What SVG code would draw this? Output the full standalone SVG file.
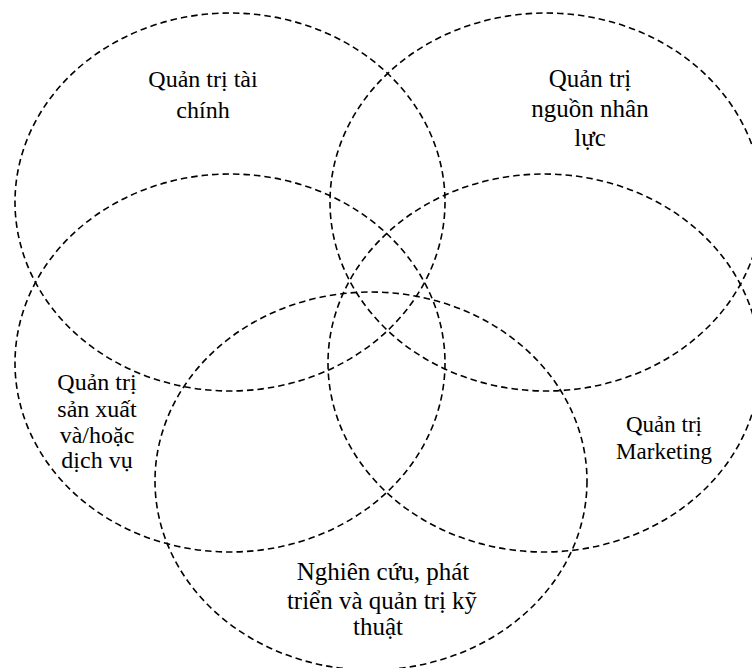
<svg xmlns="http://www.w3.org/2000/svg" width="752" height="668" viewBox="0 0 752 668">
<style>
.c{fill:none;stroke:#000;stroke-width:1.6;stroke-dasharray:6.5 4}
.t{font-family:"Liberation Serif","Times New Roman",serif;font-size:24px;fill:#000;text-anchor:middle}
.m{font-size:23px}
.l{font-size:25px}
</style>
<rect width="752" height="668" fill="#fff"/>
<g id="finance">
<ellipse class="c" cx="230" cy="202" rx="215" ry="189"/>
<text class="t" x="203" y="87">Quản trị tài</text>
<text class="t" x="203" y="118">chính</text>
</g>
<g id="hr">
<ellipse class="c" cx="546" cy="202" rx="216" ry="189"/>
<text class="t l" x="590" y="87">Quản trị</text>
<text class="t l" x="590" y="117">nguồn nhân</text>
<text class="t l" x="590" y="146">lực</text>
</g>
<g id="production">
<ellipse class="c" cx="230" cy="363" rx="215" ry="189"/>
<text class="t" x="97" y="390">Quản trị</text>
<text class="t" x="97" y="417">sản xuất</text>
<text class="t" x="97" y="443">và/hoặc</text>
<text class="t" x="97" y="468">dịch vụ</text>
</g>
<g id="marketing">
<ellipse class="c" cx="544" cy="363" rx="216" ry="189"/>
<text class="t m" x="664" y="432">Quản trị</text>
<text class="t m" x="664" y="459">Marketing</text>
</g>
<g id="rnd">
<ellipse class="c" cx="371" cy="481" rx="216" ry="189"/>
<text class="t l" x="383" y="580">Nghiên cứu, phát</text>
<text class="t l" x="382" y="609">triển và quản trị kỹ</text>
<text class="t l" x="378" y="635">thuật</text>
</g>
<g id="connectors"></g>
</svg>
